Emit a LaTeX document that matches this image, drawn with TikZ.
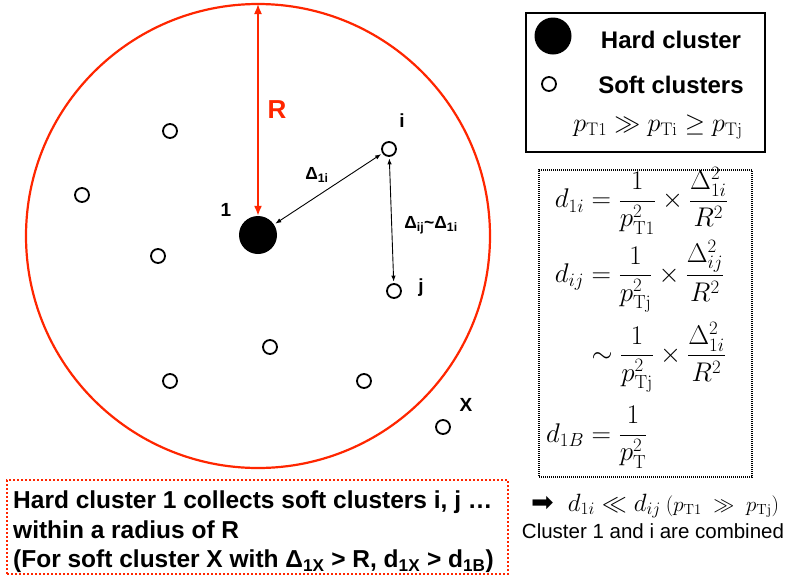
\RequirePackage{fix-cm}
\documentclass[tikz,border=0pt]{standalone}
\usepackage{amsmath}
\usepackage[no-math]{fontspec}
\setmainfont{Liberation Sans}
\newfontfamily\djv{DejaVu Sans}
\usetikzlibrary{arrows.meta}
\definecolor{kred}{RGB}{255,38,0}
\begin{document}
\begin{tikzpicture}[x=1pt,y=-1pt,
  soft/.style={circle,draw,line width=1.8pt,minimum size=14pt,inner sep=0pt},
  hard/.style={circle,fill=black,minimum size=38pt,inner sep=0pt},
  lbl/.style={font=\fontsize{19}{19}\selectfont\bfseries,inner sep=0pt},
  dlbl/.style={font=\fontsize{17.5}{17.5}\selectfont\bfseries,inner sep=0pt},
  bigtxt/.style={font=\fontsize{24}{28}\selectfont\bfseries,inner sep=0pt},
  dbl/.style={{Latex[length=6pt,width=4.5pt]}-{Latex[length=6pt,width=4.5pt]},line width=0.9pt,shorten <=1.5pt,shorten >=1.5pt},
]
\useasboundingbox (0,0) rectangle (788,579);
% big circle
\node[circle,draw=kred,line width=2.2pt,minimum size=464pt,inner sep=0pt,outer sep=0pt] (big) at (258,236) {};
% clusters
\node[hard] (h) at (258,235) {};
\node[soft] (s1) at (170,131) {};
\node[soft] (s2) at (82,195) {};
\node[soft] (s3) at (158,256) {};
\node[soft] (i) at (389,149) {};
\node[soft] (j) at (394,291) {};
\node[soft] (s4) at (270,347) {};
\node[soft] (s5) at (170,381) {};
\node[soft] (s6) at (364,381) {};
\node[soft] (x) at (443,427) {};
% labels
\node[lbl] (l1) at (226,210) {1};
\node[lbl] (li) at (402,121) {i};
\node[lbl] (lj) at (421,288) {j};
\node[lbl] (lx) at (466,405) {X};
\node[font=\fontsize{26}{26}\selectfont\bfseries,text=kred,inner sep=0pt] (lR) at (277,110) {R};
\node[dlbl] (d1i) at (317,175) {Δ\textsubscript{1i}};
\node[dlbl] (dij) at (431,225) {Δ\textsubscript{ij}\textasciitilde Δ\textsubscript{1i}};
% arrows
\draw[kred,line width=1.6pt,{Latex[length=10pt,width=8pt]}-{Latex[length=10pt,width=8pt]}] (h.north) -- (big.north);
\draw[dbl] (h) -- (i);
\draw[dbl] (i) -- (j);
% legend
\node[draw,line width=2pt,minimum width=239pt,minimum height=139pt,inner sep=0pt] (legend) at (645.5,82.5) {};
\node[circle,fill=black,minimum size=37pt,inner sep=0pt] (lh) at (553,36) {};
\node[soft] (ls) at (549,84) {};
\node[bigtxt] (lht) at (671,40) {Hard cluster};
\node[bigtxt] (lst) at (671,85) {Soft clusters};
\node[font=\fontsize{26}{26}\selectfont,inner sep=0pt] (lmath) at (658,127) {$p_{\mathrm{T1}} \gg p_{\mathrm{Ti}} \geq p_{\mathrm{Tj}}$};
% formula box
\node[draw,line width=1.2pt,dash pattern=on 1pt off 1pt,minimum width=213pt,minimum height=307pt,inner sep=0pt] (fbox) at (645.5,323.5) {};
\node[font=\fontsize{27}{31}\selectfont,inner sep=0pt,anchor=west] (form) at (546,318) {$\begin{aligned}
d_{1i} &= \frac{1}{p^2_{\mathrm{T1}}}\times\frac{\Delta^2_{1i}}{R^2}\\[2pt]
d_{ij} &= \frac{1}{p^2_{\mathrm{Tj}}}\times\frac{\Delta^2_{ij}}{R^2}\\[6pt]
&\sim \frac{1}{p^2_{\mathrm{Tj}}}\times\frac{\Delta^2_{1i}}{R^2}\\[10pt]
d_{1B} &= \frac{1}{p^2_{\mathrm{T}}}
\end{aligned}$};
% bottom box
\node[draw=kred,line width=2pt,dash pattern=on 2pt off 2pt,minimum width=501pt,minimum height=94pt,inner sep=0pt] (bbox) at (257.5,527) {};
\node[font=\fontsize{24.5}{29.5}\selectfont\bfseries,align=left,inner sep=0pt,anchor=west] (btxt) at (13,532) {Hard cluster 1 collects soft clusters i, j …\\within a radius of R\\(For soft cluster X with Δ\textsubscript{1X} > R, d\textsubscript{1X} > d\textsubscript{1B})};
% conclusion
\node[font=\fontsize{25}{25}\selectfont,inner sep=0pt,anchor=west] (concl) at (531,506) {{\djv\fontsize{27}{27}\selectfont ➡}\hspace{14pt}$d_{1i} \ll d_{ij}$\hspace{5pt}{\fontsize{21}{21}\selectfont$(p_{\mathrm{T1}} \mathrel{\;\gg\;} p_{\mathrm{Tj}})$}};
\node[font=\fontsize{20.5}{20.5}\selectfont,inner sep=0pt] (comb) at (653,531) {Cluster 1 and i are combined};
\end{tikzpicture}
\end{document}
